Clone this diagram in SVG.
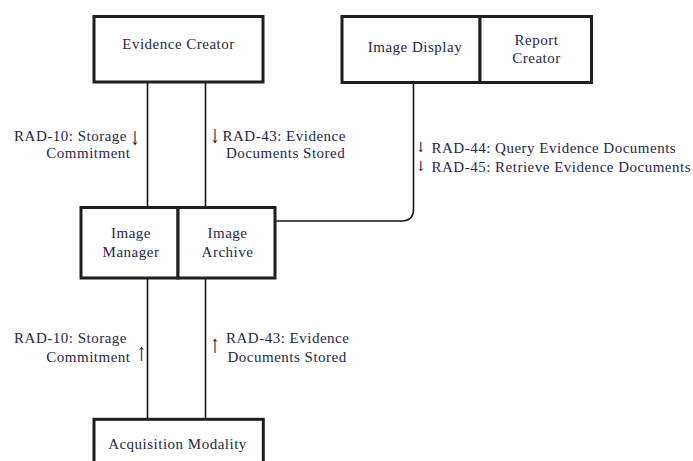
<svg xmlns="http://www.w3.org/2000/svg" width="693" height="461" viewBox="0 0 693 461">
  <style>
    .box { fill: #ffffff; stroke: #1e1e1e; stroke-width: 3; }
    .wire { fill: none; stroke: #141414; stroke-width: 1.6; }
    text { font-family: "Liberation Serif", "Times New Roman", serif; font-size: 15px; fill: #26274a; letter-spacing: 0.5px; }
    .mid { text-anchor: middle; }
    .end { text-anchor: end; }
    .arrow { font-family: "DejaVu Serif", "Liberation Serif", serif; font-size: 13px; letter-spacing: 0; fill: #1a1a36; text-anchor: middle; }
  </style>
  <rect width="693" height="461" fill="#ffffff"/>

  <!-- connectors -->
  <g id="connectors">
    <line class="wire" x1="147.5" y1="82" x2="147.5" y2="207.5"/>
    <line class="wire" x1="205.5" y1="82" x2="205.5" y2="207.5"/>
    <line class="wire" x1="147.5" y1="278" x2="147.5" y2="419"/>
    <line class="wire" x1="205.5" y1="278" x2="205.5" y2="419"/>
    <path class="wire" d="M 413.5 82.5 V 209 Q 413.5 221 401.5 221 H 275"/>
  </g>

  <!-- transaction labels; direction arrows are stretched vertically -->
  <g id="labels">
    <text class="end" x="127" y="141">RAD-10: Storage</text>
    <text class="end" x="130.5" y="157.5">Commitment</text>
    <text class="arrow" transform="translate(135 145) scale(1 1.5)">↓</text>

    <text class="arrow" transform="translate(215 143) scale(1 1.5)">↓</text>
    <text x="222.5" y="141">RAD-43: Evidence</text>
    <text x="226" y="158">Documents Stored</text>

    <text class="arrow" transform="translate(421 151.5) scale(1 1.1)">↓</text>
    <text x="431.5" y="152.5">RAD-44: Query Evidence Documents</text>
    <text class="arrow" transform="translate(421 170.5) scale(1 1.1)">↓</text>
    <text x="431.5" y="171.5">RAD-45: Retrieve Evidence Documents</text>

    <text class="end" x="127" y="343">RAD-10: Storage</text>
    <text class="end" x="130.5" y="361.5">Commitment</text>
    <text class="arrow" transform="translate(141.5 361) scale(1 1.5)">↑</text>

    <text class="arrow" transform="translate(215 353) scale(1 1.5)">↑</text>
    <text x="226" y="343">RAD-43: Evidence</text>
    <text x="227.5" y="361.5">Documents Stored</text>
  </g>

  <!-- actors -->
  <g id="evidence-creator">
    <rect class="box" x="94" y="16.5" width="169" height="65.5"/>
    <text class="mid" x="178.5" y="48.5">Evidence Creator</text>
  </g>

  <g id="image-display">
    <rect class="box" x="342" y="16.5" width="138" height="66"/>
    <text class="mid" x="415" y="52">Image Display</text>
  </g>

  <g id="report-creator">
    <rect class="box" x="480" y="16.5" width="111.5" height="66"/>
    <text class="mid" x="536.5" y="45">Report</text>
    <text class="mid" x="536.5" y="63">Creator</text>
  </g>

  <g id="image-manager">
    <rect class="box" x="81" y="207.5" width="97" height="70.5"/>
    <text class="mid" x="131" y="238">Image</text>
    <text class="mid" x="131" y="257">Manager</text>
  </g>

  <g id="image-archive">
    <rect class="box" x="178" y="207.5" width="97" height="70.5"/>
    <text class="mid" x="227.5" y="238">Image</text>
    <text class="mid" x="227.5" y="257">Archive</text>
  </g>

  <g id="acquisition-modality">
    <rect class="box" x="94" y="419.3" width="169.3" height="60"/>
    <text class="mid" x="177.5" y="449.3">Acquisition Modality</text>
  </g>
</svg>
